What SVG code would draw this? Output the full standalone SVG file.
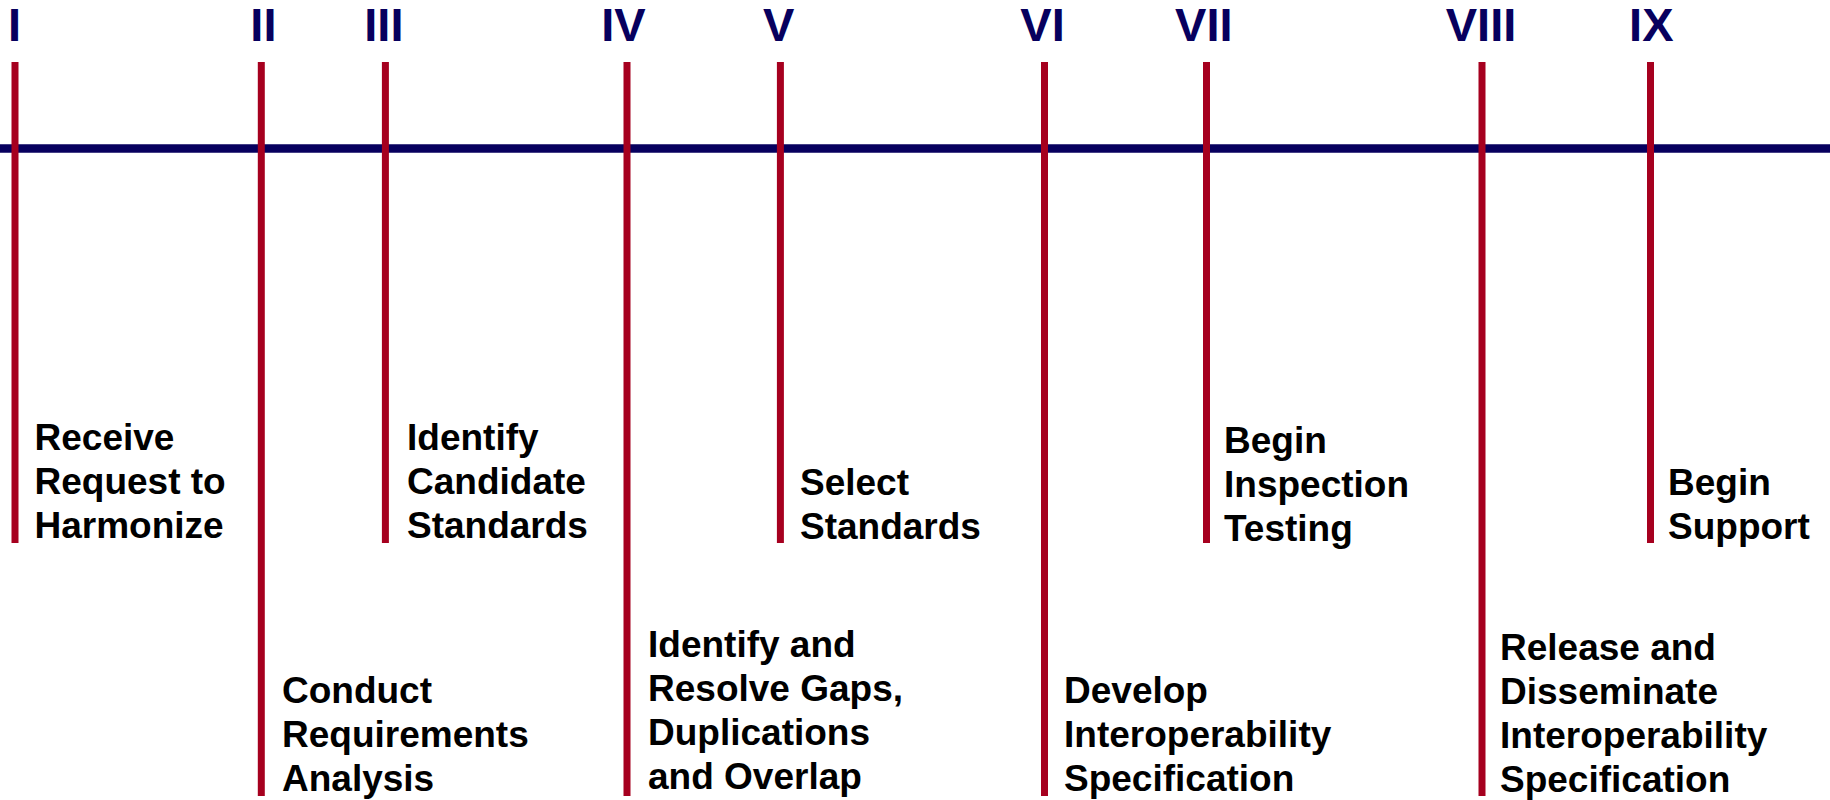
<svg xmlns="http://www.w3.org/2000/svg" width="1830" height="800" viewBox="0 0 1830 800">
<style>
.num{font-family:"Liberation Sans",Arial,sans-serif;font-weight:bold;font-size:47px;fill:#07005e;text-anchor:middle}
.lbl{font-family:"Liberation Sans",Arial,sans-serif;font-weight:bold;font-size:37px;fill:#000}
.tick{stroke:#a6001f;stroke-width:7;fill:none}
.axis{stroke:#07005e;stroke-width:8.5;fill:none}
</style>
<rect width="1830" height="800" fill="#fff"/>
<g id="connectors">
<line class="axis" x1="0" y1="148.5" x2="1830" y2="148.5"/>
<line class="tick" x1="15" y1="62" x2="15" y2="543"/>
<line class="tick" x1="261.3" y1="62" x2="261.3" y2="796"/>
<line class="tick" x1="385.4" y1="62" x2="385.4" y2="543"/>
<line class="tick" x1="627" y1="62" x2="627" y2="796"/>
<line class="tick" x1="780.4" y1="62" x2="780.4" y2="543"/>
<line class="tick" x1="1044.5" y1="62" x2="1044.5" y2="796"/>
<line class="tick" x1="1206.5" y1="62" x2="1206.5" y2="543"/>
<line class="tick" x1="1482" y1="62" x2="1482" y2="796"/>
<line class="tick" x1="1650.5" y1="62" x2="1650.5" y2="543"/>
</g>
<g id="n1"><text class="num" x="14.5" y="41">I</text>
<text class="lbl"><tspan x="34.5" y="450">Receive</tspan><tspan x="34.5" y="494">Request to</tspan><tspan x="34.5" y="538">Harmonize</tspan></text></g>
<g id="n2"><text class="num" x="263.4" y="41">II</text>
<text class="lbl"><tspan x="282" y="703">Conduct</tspan><tspan x="282" y="747">Requirements</tspan><tspan x="282" y="791">Analysis</tspan></text></g>
<g id="n3"><text class="num" x="383.9" y="41">III</text>
<text class="lbl"><tspan x="407" y="450">Identify</tspan><tspan x="407" y="494">Candidate</tspan><tspan x="407" y="538">Standards</tspan></text></g>
<g id="n4"><text class="num" x="623.5" y="41">IV</text>
<text class="lbl"><tspan x="648" y="657">Identify and</tspan><tspan x="648" y="701">Resolve Gaps,</tspan><tspan x="648" y="745">Duplications</tspan><tspan x="648" y="789">and Overlap</tspan></text></g>
<g id="n5"><text class="num" x="778.8" y="41">V</text>
<text class="lbl"><tspan x="800" y="495">Select</tspan><tspan x="800" y="539">Standards</tspan></text></g>
<g id="n6"><text class="num" x="1042.5" y="41">VI</text>
<text class="lbl"><tspan x="1064" y="703">Develop</tspan><tspan x="1064" y="747">Interoperability</tspan><tspan x="1064" y="791">Specification</tspan></text></g>
<g id="n7"><text class="num" x="1203.8" y="41">VII</text>
<text class="lbl"><tspan x="1224" y="453">Begin</tspan><tspan x="1224" y="497">Inspection</tspan><tspan x="1224" y="541">Testing</tspan></text></g>
<g id="n8"><text class="num" x="1481" y="41">VIII</text>
<text class="lbl"><tspan x="1500" y="660">Release and</tspan><tspan x="1500" y="704">Disseminate</tspan><tspan x="1500" y="748">Interoperability</tspan><tspan x="1500" y="792">Specification</tspan></text></g>
<g id="n9"><text class="num" x="1651.3" y="41">IX</text>
<text class="lbl"><tspan x="1668" y="495">Begin</tspan><tspan x="1668" y="539">Support</tspan></text></g>
</svg>
